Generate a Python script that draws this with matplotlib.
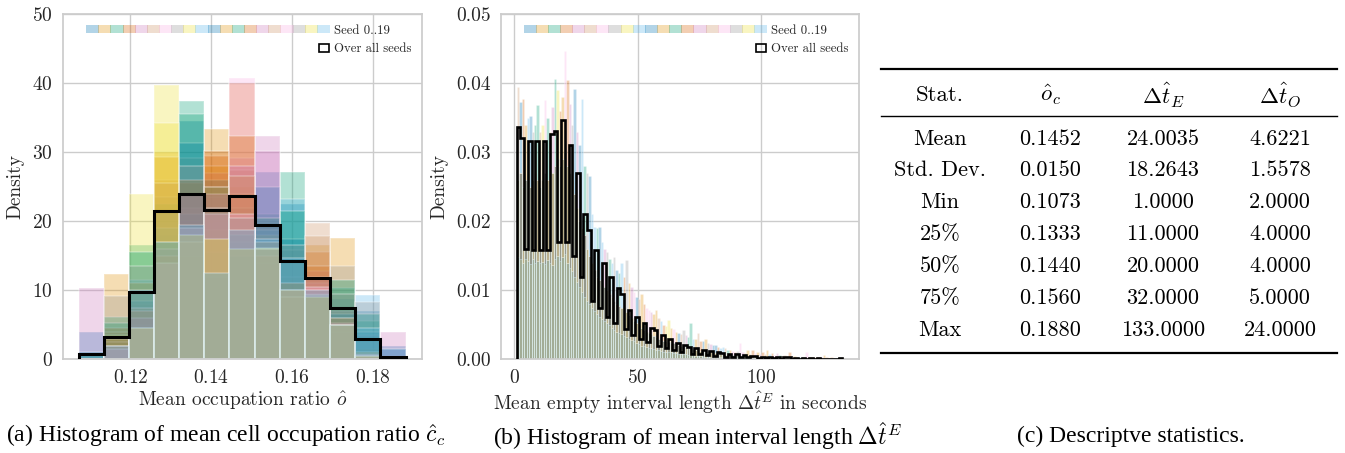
import numpy as np
import matplotlib
matplotlib.use("Agg")
import matplotlib.pyplot as plt
from matplotlib.patches import Rectangle, Patch
from matplotlib.lines import Line2D
from matplotlib.legend_handler import HandlerBase

# ---------------- data ----------------
palette = ["#0173B2", "#DE8F05", "#029E73", "#D55E00", "#CC78BC",
           "#CA9161", "#FBAFE4", "#949494", "#ECE133", "#56B4E9"]

# (a) mean occupation ratio: shared bin edges, per-seed densities, pooled density
occ_edges = [0.1073, 0.1135, 0.1197, 0.1259, 0.1321, 0.1383, 0.1445, 0.1508,
             0.1570, 0.1632, 0.1694, 0.1756, 0.1818, 0.1880]
occ_seed = [
    [4.0, 0, 10, 18, 34.6, 10, 17.5, 27.1, 22.5, 9, 8.8, 7.0, 2.0],
    [0, 12.4, 9.5, 30.0, 19.7, 33.4, 25, 17, 11, 16.5, 17.6, 1.5, 0],
    [0, 6.2, 16.6, 22.5, 37.5, 9, 19, 21, 27.1, 10, 10.3, 5.5, 0.5],
    [0, 4.5, 8, 17, 25.5, 29.5, 40.0, 15, 14.2, 15.5, 5, 1, 0],
    [10.3, 0, 7, 15, 20, 27, 29.2, 32.3, 10, 12.8, 7, 3.5, 4.0],
    [0, 4, 6.5, 26, 18, 22, 27.5, 16, 12, 19.8, 6, 1, 0],
    [0, 2, 5, 14, 22, 23.5, 40.7, 14, 9, 11, 4, 0.5, 0],
    [0, 3, 9.8, 23.5, 29.2, 12, 22, 19.5, 15.8, 11.8, 13.5, 1, 0],
    [0, 3.5, 24, 39.7, 15, 18.7, 16, 18, 11, 9, 5, 0.5, 0],
    [0, 2.5, 11.5, 19, 21, 15.5, 17, 18.7, 23.2, 9, 6, 9.3, 0],
    [1.0, 0, 8.5, 16, 31.4, 26, 15, 25, 17.5, 10, 6.5, 4, 1.5],
    [0, 2.5, 11, 29.3, 19, 28, 24, 16, 10, 10, 6, 1, 0],
    [0.7, 5.3, 15.5, 17, 35.6, 25, 18, 20.5, 21.5, 9.5, 11.5, 6.5, 0],
    [0, 3, 7, 15, 26, 30.2, 32.3, 15, 11, 13.5, 5, 0.5, 0],
    [0, 2, 6, 16, 24, 24, 28, 30.2, 10, 12, 5.3, 0.8, 0],
    [0, 2, 7.5, 25.5, 17, 25, 26.5, 17, 9, 17.8, 6, 0.6, 0],
    [0, 1.5, 4.5, 14, 19, 21, 21, 16, 10, 10.5, 5, 0.5, 0],
    [0, 9.2, 13.5, 21.5, 28, 22, 20.5, 16, 16.5, 9.3, 9.5, 8.3, 0],
    [0, 0, 4.6, 34.3, 18, 17.5, 16, 16.2, 10, 9, 5, 0.5, 0],
    [0, 2, 10, 17, 19.5, 12.5, 18.8, 17.5, 14.7, 10, 5, 4.5, 0],
]
occ_all = [0.8, 3.3, 9.8, 21.5, 24.0, 21.6, 23.7, 19.4, 14.3, 11.8, 7.4, 2.9, 0.4]

# (b) mean empty interval length (seconds)
empty_range = (1, 133)
empty_nbins = 88
empty_all = [
    0.0336, 0.0321, 0.0160, 0.0317, 0.0159, 0.0317, 0.0158, 0.0317, 0.0159, 0.0326,
    0.0331, 0.0170, 0.0347, 0.0170, 0.0311, 0.0149, 0.0270, 0.0119, 0.0210, 0.0187,
    0.0085, 0.0158, 0.0074, 0.0139, 0.0062, 0.0119, 0.0053, 0.0103, 0.0095, 0.0044,
    0.0072, 0.0035, 0.0062, 0.0030, 0.0052, 0.0025, 0.0045, 0.0042, 0.0019, 0.0035,
    0.0016, 0.0029, 0.0013, 0.0024, 0.0011, 0.0021, 0.0018, 0.0008, 0.0016, 0.0007,
    0.0013, 0.0006, 0.0012, 0.0005, 0.0010, 0.0009, 0.0004, 0.0008, 0.0004, 0.0007,
    0.0003, 0.0006, 0.0003, 0.0005, 0.0005, 0.0002, 0.0004, 0.0002, 0.0004, 0.0002,
    0.0003, 0.0001, 0.0003, 0.0003, 0.0001, 0.0002, 0.0001, 0.0002, 0.0001, 0.0002,
    0.0001, 0.0002, 0.0001, 0.0001, 0.0001, 0.0001, 0.0001, 0.0002]

# per-second seed densities: level shared by all seeds, level of half the seeds,
# highest seed and which seed reaches it
empty_seed_base = [
    0.0148, 0.0145, 0.0140, 0.0146, 0.0142, 0.0138, 0.0145, 0.0140, 0.0143, 0.0139,
    0.0141, 0.0138, 0.0144, 0.0140, 0.0137, 0.0145, 0.0150, 0.0142, 0.0148, 0.0152,
    0.0140, 0.0132, 0.0128, 0.0120, 0.0112, 0.0105, 0.0098, 0.0090, 0.0085, 0.0080,
    0.0074, 0.0070, 0.0066, 0.0062, 0.0058, 0.0055, 0.0052, 0.0049, 0.0046, 0.0043,
    0.0040, 0.0038, 0.0036, 0.0034, 0.0032, 0.0030, 0.0028, 0.0026, 0.0024, 0.0022,
    0.0020, 0.0019, 0.0018, 0.0017, 0.0016, 0.0015, 0.0014, 0.0013, 0.0012, 0.0011,
    0.0011, 0.0010, 0.0010, 0.0009, 0.0009, 0.0008, 0.0008, 0.0007, 0.0007, 0.0006,
    0.0006, 0.0006, 0.0005, 0.0005, 0.0005, 0.0004, 0.0004, 0.0004, 0.0004, 0.0003,
    0.0003, 0.0003, 0.0003, 0.0003, 0.0003, 0.0003, 0.0003, 0.0003, 0.0003, 0.0003,
    0.0002, 0.0002, 0.0002, 0.0002, 0.0002, 0.0002, 0.0002, 0.0002, 0.0002, 0.0002,
    0.00015, 0.00015, 0.00015, 0.00015, 0.00015, 0.00015, 0.00015, 0.00015, 0.00015, 0.00015,
    0.0001, 0.0001, 0.0001, 0.0001, 0.0001, 0.0001, 0.0001, 0.0001, 0.0001, 0.0001,
    0.0001, 0.0001, 0.0001, 0.0001, 0.0001, 0.0001, 0.0001, 0.0001, 0.0001, 0.0001,
    0.0001, 0.0001, 0.0001]
empty_seed_mid = [
    0.026, 0.027, 0.025, 0.026, 0.027, 0.025, 0.026, 0.027, 0.026, 0.025,
    0.026, 0.027, 0.026, 0.025, 0.027, 0.028, 0.029, 0.028, 0.029, 0.030,
    0.028, 0.027, 0.026, 0.024, 0.022, 0.020, 0.019, 0.018, 0.016, 0.015,
    0.014, 0.013, 0.012, 0.0115, 0.011, 0.0105, 0.010, 0.0095, 0.009, 0.0085,
    0.0080, 0.0077, 0.0074, 0.0071, 0.0068, 0.0064, 0.0060, 0.0056, 0.0052, 0.0049,
    0.0046, 0.0043, 0.0040, 0.0038, 0.0036, 0.0034, 0.0032, 0.0030, 0.0028, 0.0027,
    0.0026, 0.0025, 0.0024, 0.0023, 0.0022, 0.0021, 0.0020, 0.0019, 0.0018, 0.0017,
    0.0016, 0.0015, 0.0014, 0.0013, 0.0012, 0.0012, 0.0011, 0.0011, 0.0010, 0.0010,
    0.0009, 0.0009, 0.0008, 0.0008, 0.0007, 0.0007, 0.0007, 0.0006, 0.0006, 0.0006,
    0.0005, 0.0005, 0.0005, 0.0005, 0.0005, 0.0005, 0.0005, 0.0005, 0.0005, 0.0005,
    0.0003, 0.0003, 0.0003, 0.0003, 0.0003, 0.0003, 0.0003, 0.0003, 0.0003, 0.0003,
    0.0002, 0.0002, 0.0002, 0.0002, 0.0002, 0.0002, 0.0002, 0.0002, 0.0002, 0.0002,
    0.0002, 0.0002, 0.0002, 0.0002, 0.0002, 0.0002, 0.0002, 0.0002, 0.0002, 0.0002,
    0.0002, 0.0002, 0.0002]
empty_seed_top = [
    0.0395, 0.0373, 0.0377, 0.0340, 0.0350, 0.0352, 0.0330, 0.0340, 0.0369, 0.0330,
    0.0340, 0.0376, 0.0350, 0.0330, 0.0365, 0.0406, 0.0390, 0.0360, 0.0380, 0.0447,
    0.0405, 0.0370, 0.0340, 0.0392, 0.0330, 0.0310, 0.0377, 0.0280, 0.0270, 0.0265,
    0.0210, 0.0192, 0.0190, 0.0192, 0.0170, 0.0160, 0.0156, 0.0145, 0.0140, 0.0148,
    0.0130, 0.0125, 0.0139, 0.0120, 0.0144, 0.0110, 0.0105, 0.0098, 0.0090, 0.0088,
    0.0095, 0.0080, 0.0075, 0.0071, 0.0068, 0.0065, 0.0071, 0.0060, 0.0055, 0.0050,
    0.0048, 0.0057, 0.0045, 0.0044, 0.0040, 0.0038, 0.0036, 0.0042, 0.0035, 0.0033,
    0.0052, 0.0030, 0.0029, 0.0038, 0.0027, 0.0026, 0.0029, 0.0024, 0.0022, 0.0021,
    0.0021, 0.0018, 0.0017, 0.0018, 0.0016, 0.0014, 0.0013, 0.0012, 0.0011, 0.0012,
    0.0023, 0.0010, 0.0009, 0.0013, 0.0008, 0.0013, 0.0009, 0.0011, 0.0008, 0.0011,
    0.0008, 0.0013, 0.0007, 0.0009, 0.0006, 0.0009, 0.0006, 0.0005, 0.0006, 0.0004,
    0.0010, 0.0005, 0.0005, 0.0004, 0.0004, 0.0003, 0.0004, 0.0011, 0.0004, 0.0003,
    0.0003, 0.0004, 0.0003, 0.0004, 0.0006, 0.0003, 0.0002, 0.0003, 0.0002, 0.0002,
    0.0002, 0.0002, 0.0002]
empty_seed_top_id = [
    5, 0, 3, 1, 9, 0, 7, 2, 2, 5,
    8, 6, 2, 1, 4, 2, 8, 3, 1, 6,
    3, 4, 7, 0, 4, 0, 9, 2, 7, 0,
    9, 9, 2, 0, 9, 4, 7, 2, 9, 7,
    0, 2, 9, 3, 7, 1, 4, 6, 0, 5,
    1, 3, 6, 6, 4, 1, 1, 5, 9, 3,
    8, 8, 1, 6, 1, 0, 5, 7, 4, 2,
    2, 9, 1, 5, 3, 0, 1, 7, 4, 0,
    0, 3, 9, 9, 5, 2, 1, 6, 3, 7,
    6, 4, 1, 1, 5, 3, 6, 1, 4, 3,
    5, 1, 9, 3, 6, 4, 2, 1, 5, 3,
    3, 7, 1, 5, 0, 4, 1, 6, 3, 1,
    5, 3, 1, 4, 1, 3, 5, 3, 1, 0,
    5, 3, 1]

# (c) table
table_header = ["Stat.", r"$\hat{o}_c$", r"$\Delta\hat{t}_E$", r"$\Delta\hat{t}_O$"]
table_rows = [
    ["Mean", "0.1452", "24.0035", "4.6221"],
    ["Std. Dev.", "0.0150", "18.2643", "1.5578"],
    ["Min", "0.1073", "1.0000", "2.0000"],
    ["25%", "0.1333", "11.0000", "4.0000"],
    ["50%", "0.1440", "20.0000", "4.0000"],
    ["75%", "0.1560", "32.0000", "5.0000"],
    ["Max", "0.1880", "133.0000", "24.0000"],
]
n_seeds = 20

# ---------------- style ----------------
plt.rcParams.update({
    "font.family": ["cmr10", "DejaVu Serif"],
    "mathtext.fontset": "cm",
    "axes.formatter.use_mathtext": True,
    "text.color": "#262626",
    "axes.labelcolor": "#262626",
    "xtick.color": "#262626",
    "ytick.color": "#262626",
})

W, H = 1345, 453
fig = plt.figure(figsize=(W / 100, H / 100), dpi=100)


def px_axes(x0, y0, x1, y1):
    return fig.add_axes([x0 / W, 1 - y1 / H, (x1 - x0) / W, (y1 - y0) / H])


def style(ax):
    ax.set_facecolor("white")
    for sp in ax.spines.values():
        sp.set_color("#cccccc")
        sp.set_linewidth(1.25)
    ax.grid(True, color="#cccccc", lw=1.0)
    ax.set_axisbelow(True)
    ax.tick_params(length=0, pad=7, labelsize=14)


class SeedStrip(HandlerBase):
    def create_artists(self, legend, orig_handle, xdescent, ydescent,
                       width, height, fontsize, trans):
        w = width / n_seeds
        arts = []
        for i in range(n_seeds):
            arts.append(Rectangle((-xdescent + i * w, -ydescent), w * 1.08, height,
                                  facecolor=palette[i % 10], alpha=0.3,
                                  edgecolor="none", transform=trans))
        return arts


class BoxRight(HandlerBase):
    def create_artists(self, legend, orig_handle, xdescent, ydescent,
                       width, height, fontsize, trans):
        bw = height * 1.25
        return [Rectangle((-xdescent + width - bw, -ydescent), bw, height,
                          facecolor="none", edgecolor="black", lw=1.2,
                          transform=trans)]


def add_legend(ax):
    h1 = Patch()
    h2 = Patch()
    ax.legend([h1, h2], ["Seed 0..19", "Over all seeds"],
              handler_map={h1: SeedStrip(), h2: BoxRight()},
              loc="upper right", frameon=False, fontsize=9.2,
              handlelength=19.0, handleheight=0.58, handletextpad=0.4,
              labelspacing=0.5, borderaxespad=0.4)


# ---------------- (a) ----------------
ax1 = px_axes(62.7, 14.3, 421.7, 359.3)
style(ax1)
edges_a = np.array(occ_edges)
for s in range(n_seeds):
    ax1.bar(edges_a[:-1], occ_seed[s], width=np.diff(edges_a), align="edge",
            color=palette[s % 10], alpha=0.3, edgecolor="white", linewidth=1.1,
            zorder=2)
ax1.stairs(occ_all, edges_a, color="black", lw=2.2, baseline=0, zorder=5)
ax1.set_xlim(0.1033, 0.1920)
ax1.set_ylim(0, 50)
ax1.set_xticks([0.12, 0.14, 0.16, 0.18])
ax1.set_yticks([0, 10, 20, 30, 40, 50])
ax1.set_xlabel(r"Mean occupation ratio $\hat{o}$", fontsize=14, labelpad=2)
ax1.set_ylabel("Density", fontsize=14, labelpad=6)
add_legend(ax1)

# ---------------- (b) ----------------
ax2 = px_axes(500.7, 14.3, 859.0, 359.3)
style(ax2)
secs = np.arange(empty_range[0], empty_range[1] + 1)
for s in range(n_seeds):
    hs = []
    for k in range(len(secs)):
        if empty_seed_top_id[k] == s:
            hs.append(empty_seed_top[k])
        elif (s + k) % 2 == 0:
            hs.append(empty_seed_mid[k])
        else:
            hs.append(empty_seed_base[k])
    ax2.bar(secs, hs, width=1.0, align="edge", color=palette[s % 10], alpha=0.3,
            edgecolor="white", linewidth=0.5, zorder=2)
edges_b = np.linspace(empty_range[0], empty_range[1], empty_nbins + 1)
ax2.stairs(empty_all, edges_b, color="black", lw=1.9, baseline=0, zorder=5)
ax2.set_xlim(-5.5, 139.7)
ax2.set_ylim(0, 0.05)
ax2.set_xticks([0, 50, 100])
ax2.set_yticks([0, 0.01, 0.02, 0.03, 0.04, 0.05])
ax2.yaxis.set_major_formatter(matplotlib.ticker.FormatStrFormatter("%.2f"))
ax2.set_xlabel(r"Mean empty interval length $\Delta\hat{t}^E$ in seconds",
               fontsize=14, labelpad=2)
ax2.set_ylabel("Density", fontsize=14, labelpad=6)
add_legend(ax2)

# ---------------- (c) table ----------------
def fx(x):
    return x / W


def fy(y):
    return 1 - y / H


col_x = [940, 1050, 1163, 1280]
fig.add_artist(Line2D([fx(881), fx(1337)], [fy(69), fy(69)], color="black", lw=1.6,
                      transform=fig.transFigure))
fig.add_artist(Line2D([fx(881), fx(1337)], [fy(115.7), fy(115.7)], color="black", lw=1.0,
                      transform=fig.transFigure))
fig.add_artist(Line2D([fx(881), fx(1337)], [fy(353.3), fy(353.3)], color="black", lw=1.6,
                      transform=fig.transFigure))
for j, h in enumerate(table_header):
    fig.text(fx(col_x[j]), fy(95), h, ha="center", va="center", fontsize=16.5,
             color="black")
row_y = [139.3, 170.7, 202.7, 234.3, 266.0, 298.0, 330.0]
for i, row in enumerate(table_rows):
    for j, v in enumerate(row):
        fig.text(fx(col_x[j]), fy(row_y[i]), v, ha="center", va="center",
                 fontsize=16, color="black")

# ---------------- captions ----------------
cap_kw = dict(ha="center", va="center", fontsize=17, color="black",
              family=["Liberation Serif", "DejaVu Serif"], math_fontfamily="cm")
fig.text(fx(226), fy(436), r"(a) Histogram of mean cell occupation ratio $\hat{c}_c$", **cap_kw)
fig.text(fx(697), fy(436), r"(b) Histogram of mean interval length $\Delta\hat{t}^E$", **cap_kw)
fig.text(fx(1131), fy(436), "(c) Descriptve statistics.", **cap_kw)

fig.savefig("out.png", dpi=100)
